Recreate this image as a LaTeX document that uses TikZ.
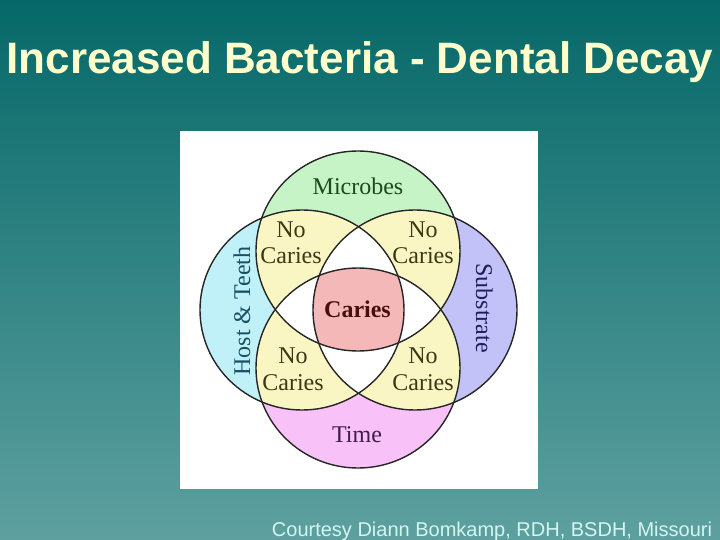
\documentclass[tikz,border=0pt]{standalone}
\usepackage{fontspec}
\setmainfont{Liberation Serif}
\setsansfont{Liberation Sans}
\usepackage{tikz}
\usetikzlibrary{positioning}
\definecolor{bgtop}{RGB}{6,104,104}
\definecolor{bgbot}{RGB}{94,160,160}
\definecolor{titlecream}{RGB}{255,255,204}
\definecolor{creditcyan}{RGB}{212,246,240}
\definecolor{micgreen}{RGB}{198,244,198}
\definecolor{hostcyan}{RGB}{192,240,248}
\definecolor{subblue}{RGB}{194,194,248}
\definecolor{timepink}{RGB}{248,194,248}
\definecolor{nocaries}{RGB}{250,246,196}
\definecolor{cariespink}{RGB}{244,184,184}
\definecolor{micdark}{RGB}{30,72,30}
\definecolor{hostdark}{RGB}{22,82,100}
\definecolor{subdark}{RGB}{30,30,92}
\definecolor{timedark}{RGB}{62,30,72}
\definecolor{nodark}{RGB}{60,56,20}
\definecolor{cariesdark}{RGB}{72,14,14}
\newcommand\rx{102pt}
\newcommand\ry{100pt}
\tikzset{
  ring/.style    = {draw=black!85, line width=1.4pt},
  venn/.style    = {font=\fontsize{24}{26}\selectfont, inner sep=0pt, anchor=base},
  no/.style      = {venn, text=nodark},
  heading/.style = {font=\sffamily\bfseries\fontsize{44}{48}\selectfont,
                    text=titlecream, inner sep=0pt, anchor=base},
  credit/.style  = {font=\sffamily\fontsize{20}{22}\selectfont,
                    text=creditcyan, inner sep=0pt, anchor=base}
}

\begin{document}
\begin{tikzpicture}[x=1pt, y=-1pt]

% slide background and the white picture panel
\useasboundingbox (0,0) rectangle (720,540);
\shade[top color=bgtop, bottom color=bgbot] (0,0) rectangle (720,540);
\fill[white] (180,131) rectangle (538,489);

% centres of the four rings
\coordinate (mic)  at (358,251);
\coordinate (host) at (302,310);
\coordinate (sub)  at (415,310);
\coordinate (time) at (358,368);

% each ring in its own colour
\fill[micgreen] (mic) ellipse [x radius=\rx, y radius=\ry];
\fill[hostcyan] (host) ellipse [x radius=\rx, y radius=\ry];
\fill[subblue]  (sub) ellipse [x radius=\rx, y radius=\ry];
\fill[timepink] (time) ellipse [x radius=\rx, y radius=\ry];

% two rings meet: no caries
\foreach \a/\b in {mic/host, mic/sub, time/host, time/sub, mic/time, host/sub} {
  \begin{scope}
    \clip (\a) ellipse [x radius=\rx, y radius=\ry];
    \fill[nocaries] (\b) ellipse [x radius=\rx, y radius=\ry];
  \end{scope}
}
% three rings meet: left white
\foreach \a/\b/\c in {mic/host/sub, time/host/sub, host/mic/time, sub/mic/time} {
  \begin{scope}
    \clip (\a) ellipse [x radius=\rx, y radius=\ry];
    \clip (\b) ellipse [x radius=\rx, y radius=\ry];
    \fill[white] (\c) ellipse [x radius=\rx, y radius=\ry];
  \end{scope}
}
% all four rings: caries
\begin{scope}
  \clip (mic) ellipse [x radius=\rx, y radius=\ry];
  \clip (host) ellipse [x radius=\rx, y radius=\ry];
  \clip (sub) ellipse [x radius=\rx, y radius=\ry];
  \fill[cariespink] (time) ellipse [x radius=\rx, y radius=\ry];
\end{scope}

% outlines
\foreach \a in {mic, host, sub, time}
  \draw[ring] (\a) ellipse [x radius=\rx, y radius=\ry];

% ring labels
\node[venn, text=micdark] (microbes) at (358,195) {Microbes};
\node[venn, text=hostdark, rotate=90] (teeth) at (250,311) {Host \& Teeth};
\node[venn, text=subdark, rotate=-90] (substrate) at (476,308) {Substrate};
\node[venn, text=timedark] (timelbl) at (357,442) {Time};

% overlaps
\node[no] (ulno) at (291,237) {No};
\node[no] (ulcar) at (291,263) {Caries};
\node[no] (urno) at (423,237) {No};
\node[no] (urcar) at (423,263) {Caries};
\node[no] (llno) at (293,363) {No};
\node[no] (llcar) at (293,390) {Caries};
\node[no] (lrno) at (423,363) {No};
\node[no] (lrcar) at (423,390) {Caries};
\node[venn, text=cariesdark, font=\bfseries\fontsize{24}{26}\selectfont] (caries) at (357.5,317) {Caries};

% title and credit line
\node[heading] (title) at (360,74) {Increased Bacteria - Dental Decay};
\node[credit] (courtesy) at (492,536) {Courtesy Diann Bomkamp, RDH, BSDH, Missouri};

\end{tikzpicture}
\end{document}
